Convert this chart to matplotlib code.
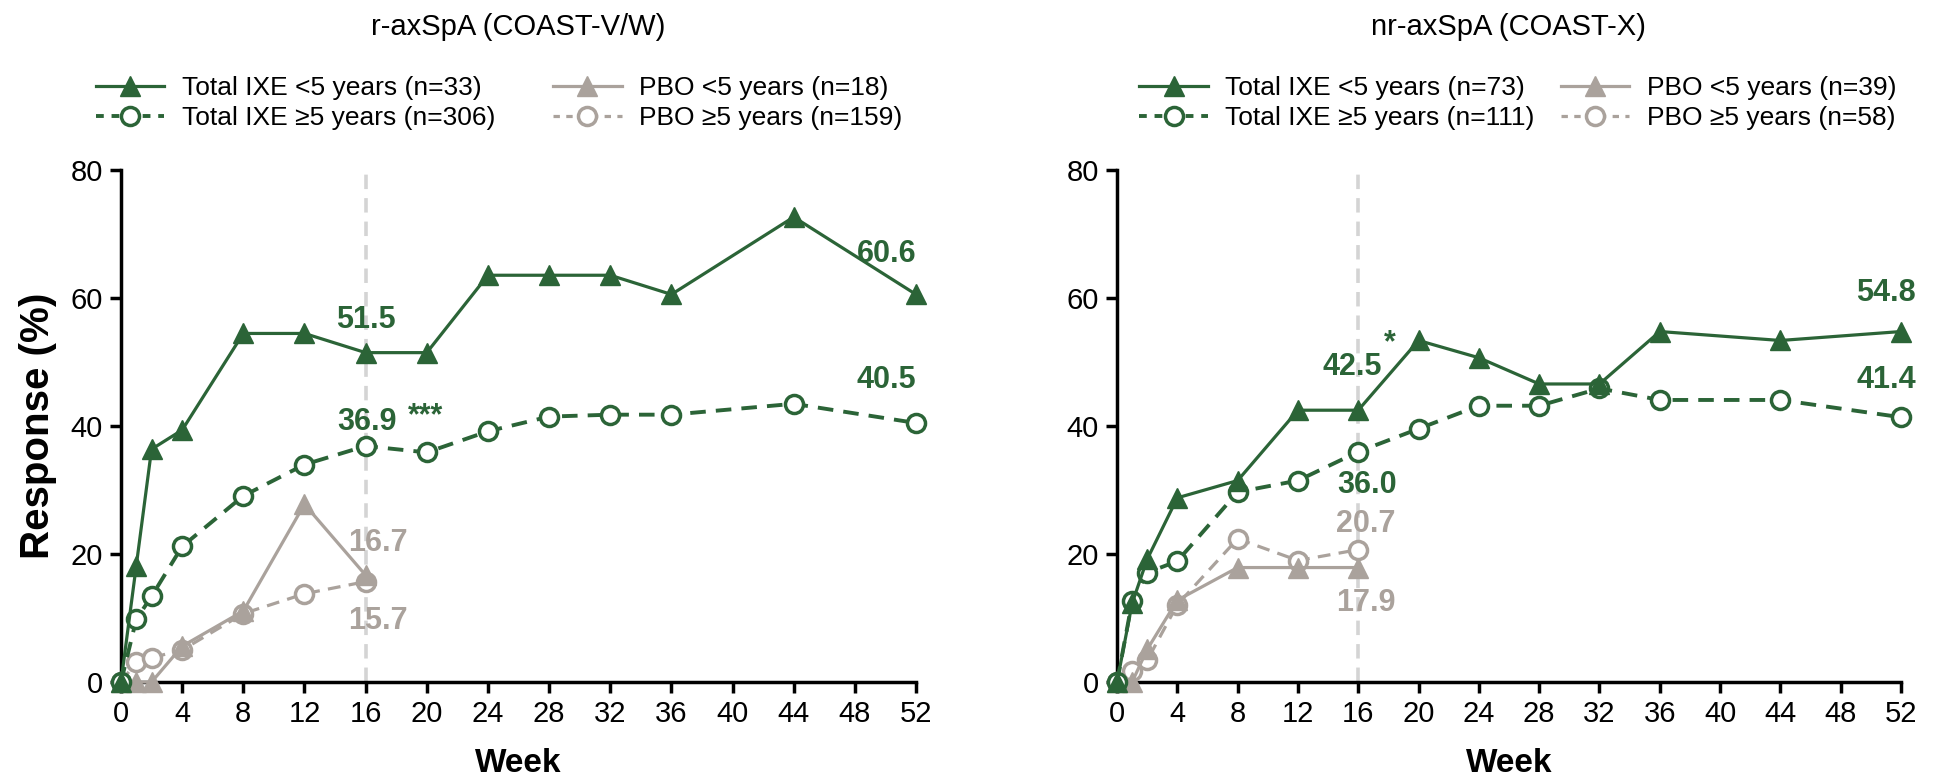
import numpy as np
import matplotlib.pyplot as plt
from matplotlib.lines import Line2D

plt.rcParams['font.family'] = ['Liberation Sans', 'DejaVu Sans']

# weeks
weeks = [0, 1, 2, 4, 8, 12, 16, 20, 24, 28, 32, 36, 44, 52]
pbo_weeks = [0, 1, 2, 4, 8, 12, 16]

# r-axSpA (COAST-V/W)
ixe_lt5_r = [0, 18.2, 36.4, 39.4, 54.5, 54.5, 51.5, 51.5, 63.6, 63.6, 63.6, 60.6, 72.7, 60.6]
ixe_ge5_r = [0, 9.8, 13.4, 21.2, 29.1, 34.0, 36.9, 35.9, 39.2, 41.5, 41.8, 41.8, 43.5, 40.5]
pbo_lt5_r = [0, 0, 0, 5.6, 11.1, 27.8, 16.7]
pbo_ge5_r = [0, 3.1, 3.8, 5.0, 10.7, 13.8, 15.7]

# nr-axSpA (COAST-X)
ixe_lt5_x = [0, 12.3, 19.2, 28.8, 31.5, 42.5, 42.5, 53.4, 50.7, 46.6, 46.6, 54.8, 53.4, 54.8]
ixe_ge5_x = [0, 12.6, 17.1, 18.9, 29.7, 31.5, 36.0, 39.6, 43.2, 43.2, 45.9, 44.1, 44.1, 41.4]
pbo_lt5_x = [0, 0, 5.1, 12.8, 17.9, 17.9, 17.9]
pbo_ge5_x = [0, 1.7, 3.4, 12.1, 22.4, 19.0, 20.7]

titles = ['r-axSpA (COAST-V/W)', 'nr-axSpA (COAST-X)']
labels_r = ['Total IXE <5 years (n=33)', 'Total IXE \u22655 years (n=306)',
            'PBO <5 years (n=18)', 'PBO \u22655 years (n=159)']
labels_x = ['Total IXE <5 years (n=73)', 'Total IXE \u22655 years (n=111)',
            'PBO <5 years (n=39)', 'PBO \u22655 years (n=58)']

green = '#2b6437'
grey = '#aaa29c'
vline = '#d4d4d4'

fig = plt.figure(figsize=(19.42, 7.8), dpi=100)
ax1 = fig.add_axes([0.0623, 0.1256, 0.4094, 0.656])
ax2 = fig.add_axes([0.5752, 0.1256, 0.4037, 0.656])

lw = 2.3
ms_tri = 15
ms_circ = 13
dash = (4, 2.6)


def draw(ax, ixe_lt5, ixe_ge5, pbo_lt5, pbo_ge5, labels):
    ax.axvline(16, color=vline, lw=2.6, ls=(0, (4, 2.5)), zorder=1)
    ax.plot(pbo_weeks, pbo_ge5, color=grey, lw=lw, ls=(0, dash), marker='o', ms=ms_circ,
            mfc='white', mew=2.5, clip_on=False, zorder=3, label=labels[3])
    ax.plot(pbo_weeks, pbo_lt5, color=grey, lw=lw, marker='^', ms=ms_tri,
            clip_on=False, zorder=3, label=labels[2])
    ax.plot(weeks, ixe_ge5, color=green, lw=lw + 0.5, ls=(0, dash), marker='o', ms=ms_circ,
            mfc='white', mew=2.5, clip_on=False, zorder=4, label=labels[1])
    ax.plot(weeks, ixe_lt5, color=green, lw=lw, marker='^', ms=ms_tri,
            clip_on=False, zorder=5, label=labels[0])

    ax.set_xlim(0, 52)
    ax.set_ylim(0, 80)
    ax.set_xticks(np.arange(0, 53, 4))
    ax.set_yticks([0, 20, 40, 60, 80])
    for s in ['top', 'right']:
        ax.spines[s].set_visible(False)
    for s in ['left', 'bottom']:
        ax.spines[s].set_linewidth(2.5)
    ax.tick_params(width=2.5, length=8, labelsize=21, pad=5)
    ax.set_xlabel('Week', fontsize=24, fontweight='bold', labelpad=14)

    handles = [
        Line2D([], [], color=green, lw=lw, marker='^', ms=ms_tri),
        Line2D([], [], color=green, lw=lw + 0.5, ls=(0, (2, 2)), marker='o', ms=ms_circ,
               mfc='white', mew=2.5),
        Line2D([], [], color=grey, lw=lw, marker='^', ms=ms_tri),
        Line2D([], [], color=grey, lw=lw, ls=(0, (2, 2)), marker='o', ms=ms_circ,
               mfc='white', mew=2.5),
    ]
    return handles


h1 = draw(ax1, ixe_lt5_r, ixe_ge5_r, pbo_lt5_r, pbo_ge5_r, labels_r)
h2 = draw(ax2, ixe_lt5_x, ixe_ge5_x, pbo_lt5_x, pbo_ge5_x, labels_x)

ax1.set_ylabel('Response (%)', fontsize=29, fontweight='bold', labelpad=10)

leg1 = ax1.legend(h1, labels_r, ncol=2, loc='upper left', bbox_to_anchor=(-0.045, 1.205),
                  frameon=False, fontsize=19, handlelength=2.6, handletextpad=0.65,
                  labelspacing=0.22, columnspacing=2.2, borderaxespad=0)
leg2 = ax2.legend(h2, labels_x, ncol=2, loc='upper left', bbox_to_anchor=(0.015, 1.205),
                  frameon=False, fontsize=19, handlelength=2.6, handletextpad=0.65,
                  labelspacing=0.22, columnspacing=1.0, borderaxespad=0)

fig.text(0.2670, 0.965, titles[0], fontsize=21, ha='center', va='center')
fig.text(0.7770, 0.965, titles[1], fontsize=21, ha='center', va='center')

kw = dict(fontsize=22, fontweight='bold', va='center', zorder=6)
# left annotations
ax1.text(16, 56.6, '51.5', color=green, ha='center', **kw)
ax1.text(16.1, 40.7, '36.9', color=green, ha='center', **kw)
ax1.text(19.9, 41.6, '***', color=green, ha='center', **kw)
ax1.text(16.8, 21.7, '16.7', color=grey, ha='center', **kw)
ax1.text(16.8, 9.6, '15.7', color=grey, ha='center', **kw)
ax1.text(52.0, 67.0, '60.6', color=green, ha='right', **kw)
ax1.text(52.0, 47.3, '40.5', color=green, ha='right', **kw)
# right annotations
ax2.text(15.6, 49.2, '42.5', color=green, ha='center', **kw)
ax2.text(18.1, 53.0, '*', color=green, ha='center', **kw)
ax2.text(16.6, 30.8, '36.0', color=green, ha='center', **kw)
ax2.text(16.5, 24.7, '20.7', color=grey, ha='center', **kw)
ax2.text(16.5, 12.4, '17.9', color=grey, ha='center', **kw)
ax2.text(51.0, 60.8, '54.8', color=green, ha='center', **kw)
ax2.text(51.0, 47.2, '41.4', color=green, ha='center', **kw)

fig.savefig('out.png', dpi=100)
